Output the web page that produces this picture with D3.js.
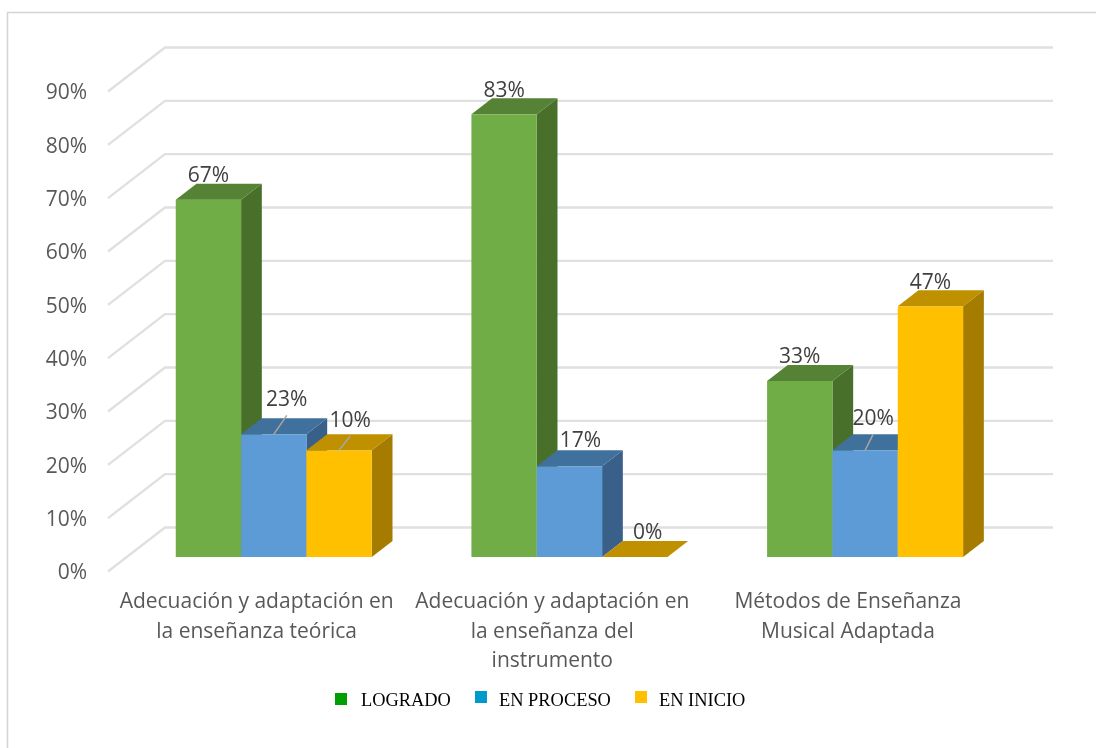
<!DOCTYPE html>
<html lang="es">
<head>
<meta charset="utf-8">
<script src="https://cdn.jsdelivr.net/npm/d3@7/dist/d3.min.js"></script>
<style>
html,body{margin:0;padding:0;background:#fff;overflow:hidden}
svg{display:block}
</style>
</head>
<body>
<svg id="chart" width="1096" height="748"></svg>
<script>
const categories = [
  ["Adecuación y adaptación en","la enseñanza teórica"],
  ["Adecuación y adaptación en","la enseñanza del","instrumento"],
  ["Métodos de Enseñanza","Musical Adaptada"]
];
const seriesNames = ["LOGRADO","EN PROCESO","EN INICIO"];
const logrado = [67,83,33];
const enProceso = [23,17,20];
const enInicio = [20,0,47];           // drawn height as pictured
const logradoLabels = [67,83,33];
const enProcesoLabels = [23,17,20];
const enInicioLabels = [10,0,47];     // printed label as pictured
const yTicks = [0,10,20,30,40,50,60,70,80,90];

const seriesValues = [logrado,enProceso,enInicio];
const seriesLabels = [logradoLabels,enProcesoLabels,enInicioLabels];

const faces = [
  {front:"#70AD47",top:"#548235",side:"#4A6F2A"},
  {front:"#5B9BD5",top:"#41719C",side:"#376088"},
  {front:"#FFC000",top:"#BF9000",side:"#A67C00"}
];
const legendColors = ["#009F00","#0099CC","#FFC000"];

// label placement relative to the centre of the bar's front top edge: [series][category] -> [dx,dy,leader]
const labelPlace = [
  [[0,-25,false],[0,-25,false],[0,-25,false]],
  [[13,-36,true],[11,-27,false],[8,-33,true]],
  [[11,-31,true],[13,-25,false],[0,-25,false]]
];

const svg = d3.select("#chart");
const sans = "'Open Sans', sans-serif";
const serif = "'Liberation Serif', serif";

const defs = svg.append("defs");
defs.append("filter").attr("id","soft").attr("x","-1%").attr("y","-1%").attr("width","102%").attr("height","102%")
  .append("feGaussianBlur").attr("stdDeviation",0.5);
const root = svg.append("g").attr("filter","url(#soft)");
root.append("rect").attr("width",1096).attr("height",748).attr("fill","#fff");

// panel frame
root.append("path").attr("d","M7.5 760V12.5H1110").attr("fill","none").attr("stroke","#d4d4d4").attr("stroke-width",1.5);

const wallDx = 57, wallDy = 44;
const y = d3.scaleLinear().domain([0,90]).range([571,91]);
const x0 = d3.scaleBand().domain(d3.range(categories.length)).range([107.8,994.8]).paddingInner(0.337).paddingOuter(0.1685);
const x1 = d3.scaleBand().domain(d3.range(seriesNames.length)).range([0,x0.bandwidth()]);
const zFront = 14/44, zBack = 30/44;
const depthDx = (zBack-zFront)*wallDx, depthDy = (zBack-zFront)*wallDy;
const frontDx = zFront*wallDx, frontDy = zFront*wallDy;

// gridlines on the back and side wall
const grid = root.append("g").attr("fill","none").attr("stroke","#e0e0e0").attr("stroke-width",2.4).attr("transform","translate(0,0.5)");
grid.selectAll("path").data(yTicks).join("path")
  .attr("d",d=>d3.line()([[108,y(d)],[108+wallDx,y(d)-wallDy],[1053,y(d)-wallDy]]));

// axis labels
const yAxis = root.append("g").attr("transform","translate(87,1)")
  .call(d3.axisLeft(y).tickValues(yTicks).tickSize(0).tickPadding(0).tickFormat(d=>d+"%"));
yAxis.select(".domain").remove();
yAxis.selectAll("text").attr("font-family",sans).attr("font-size",21).attr("fill","#595959");

// bars
const bars = root.append("g");
categories.forEach((c,ci)=>{
  seriesNames.forEach((s,si)=>{
    const v = seriesValues[si][ci];
    const xl = x0(ci)+x1(si)+frontDx, xr = xl+x1.bandwidth();
    const yt = y(v)-frontDy, yb = y(0)-frontDy;
    const g = bars.append("g");
    const poly = pts=>pts.map(p=>p.join(",")).join(" ");
    if(v>0){
      g.append("polygon").attr("points",poly([[xr,yt],[xr+depthDx,yt-depthDy],[xr+depthDx,yb-depthDy],[xr,yb]])).attr("fill",faces[si].side);
      g.append("rect").attr("x",xl).attr("y",yt).attr("width",xr-xl).attr("height",yb-yt).attr("fill",faces[si].front);
    }
    g.append("polygon").attr("points",poly([[xl,yt],[xr,yt],[xr+depthDx,yt-depthDy],[xl+depthDx,yt-depthDy]])).attr("fill",faces[si].top);
  });
});

// data labels and leaders
const labels = root.append("g");
seriesNames.forEach((s,si)=>{
  categories.forEach((c,ci)=>{
    const v = seriesValues[si][ci];
    const cx = x0(ci)+x1(si)+x1.bandwidth()/2+frontDx;
    const yt = y(v)-frontDy;
    const [dx,dy,leader] = labelPlace[si][ci];
    if(leader){
      labels.append("line").attr("x1",cx).attr("y1",yt).attr("x2",cx+dx).attr("y2",yt+dy+17)
        .attr("stroke","#a6a6a6").attr("stroke-width",1.5);
    }
    labels.append("text").attr("x",cx+dx).attr("y",yt+dy).attr("dy","0.35em")
      .attr("text-anchor","middle").attr("font-family",sans).attr("font-size",21).attr("fill","#404040")
      .text(seriesLabels[si][ci]+"%");
  });
});

// category labels
const catG = root.append("g").attr("font-family",sans).attr("font-size",21).attr("fill","#595959").attr("text-anchor","middle");
categories.forEach((lines,ci)=>{
  const cx = x0(ci)+x0.bandwidth()/2+1;
  const t = catG.append("text").attr("x",cx).attr("y",608);
  lines.forEach((l,i)=>t.append("tspan").attr("x",cx).attr("dy",i?29.6:0).text(l));
});

// legend
const legendSwatchX = d3.scaleOrdinal().domain(seriesNames).range([335,475,635]);
const legendSwatchY = d3.scaleOrdinal().domain(seriesNames).range([693,691,691]);
const legendTextX = d3.scaleOrdinal().domain(seriesNames).range([361,499,659]);
const legend = root.append("g");
seriesNames.forEach((s,i)=>{
  legend.append("rect").attr("x",legendSwatchX(s)).attr("y",legendSwatchY(s)).attr("width",12).attr("height",12).attr("fill",legendColors[i]);
  legend.append("text").attr("x",legendTextX(s)).attr("y",706).attr("font-family",serif).attr("font-size",18.4).attr("fill","#000").text(s);
});
</script>
</body>
</html>
